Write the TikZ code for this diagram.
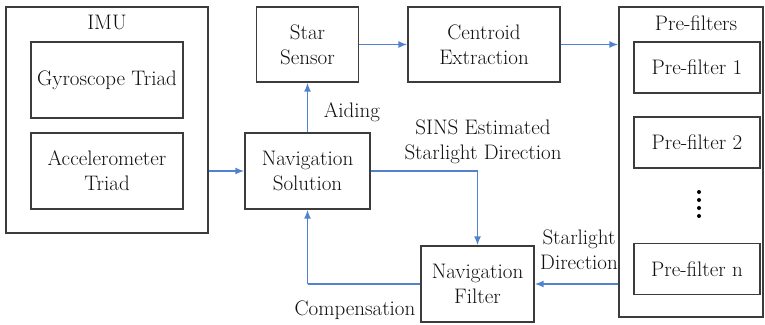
\documentclass[tikz,border=0pt]{standalone}
\usetikzlibrary{arrows.meta}
\definecolor{boxc}{RGB}{60,60,60}
\definecolor{txtc}{RGB}{15,15,15}
\definecolor{arrc}{RGB}{80,130,205}
\begin{document}
\begin{tikzpicture}[x=1pt,y=-1pt,
  blk/.style={draw=boxc,line width=1.4pt,align=center,text=txtc,inner sep=0pt,font=\fontsize{21}{25}\selectfont},
  lbl/.style={text=txtc,align=center,inner sep=0pt,font=\fontsize{21}{25}\selectfont},
  conn/.style={draw=arrc,line width=1.5pt,-{Latex[length=9pt,width=7pt]}},
  connline/.style={draw=arrc,line width=1.5pt}]
\useasboundingbox (0,0) rectangle (765,324);
\node[blk,minimum width=202pt,minimum height=226pt] (imu) at (107,120) {};
\node[lbl] (imul) at (107,22) {IMU};
\node[blk,minimum width=152pt,minimum height=76pt] (gyro) at (107,80) {Gyroscope Triad};
\node[blk,minimum width=152pt,minimum height=76pt] (acc) at (107,171) {Accelerometer\\Triad};
\node[blk,minimum width=102pt,minimum height=75pt] (star) at (307.5,44.5) {Star\\Sensor};
\node[blk,minimum width=125pt,minimum height=76pt] (ns) at (307.5,171) {Navigation\\Solution};
\node[blk,minimum width=152pt,minimum height=75pt] (cen) at (484,44.5) {Centroid\\Extraction};
\node[blk,minimum width=144pt,minimum height=310pt] (pre) at (691,162) {};
\node[lbl] (prel) at (696,23) {Pre-filters};
\node[blk,minimum width=126pt,minimum height=51pt] (pf1) at (697,67.5) {Pre-filter 1};
\node[blk,minimum width=126pt,minimum height=51pt] (pf2) at (697,142.5) {Pre-filter 2};
\node[blk,minimum width=126pt,minimum height=51pt] (pfn) at (697,269) {Pre-filter n};
\node[blk,minimum width=113pt,minimum height=76pt] (nf) at (477.5,284) {Navigation\\Filter};
\foreach \yy in {192,200,208,216} \fill[black] (699,\yy) circle (2pt);
\node[lbl] (aid) at (352,112) {Aiding};
\node[lbl] (sins) at (483,142) {SINS Estimated\\Starlight Direction};
\node[lbl] (sld) at (579,250) {Starlight\\Direction};
\node[lbl] (comp) at (355,310) {Compensation};
\coordinate (turn1) at (nf.north |- ns.east);
\coordinate (turn2) at (ns.south |- nf.west);
\draw[conn] (imu.east |- ns.west) -- (ns.west);
\draw[conn] (ns.north) -- (star.south);
\draw[conn] (star.east) -- (cen.west);
\draw[conn] (cen.east) -- (cen.east -| pre.west);
\draw[connline] (ns.east) -- (turn1);
\draw[conn] (turn1) -- (nf.north);
\draw[conn] (pre.west |- nf.east) -- (nf.east);
\draw[connline] (nf.west) -- (turn2);
\draw[conn] (turn2) -- (ns.south);
\end{tikzpicture}
\end{document}
